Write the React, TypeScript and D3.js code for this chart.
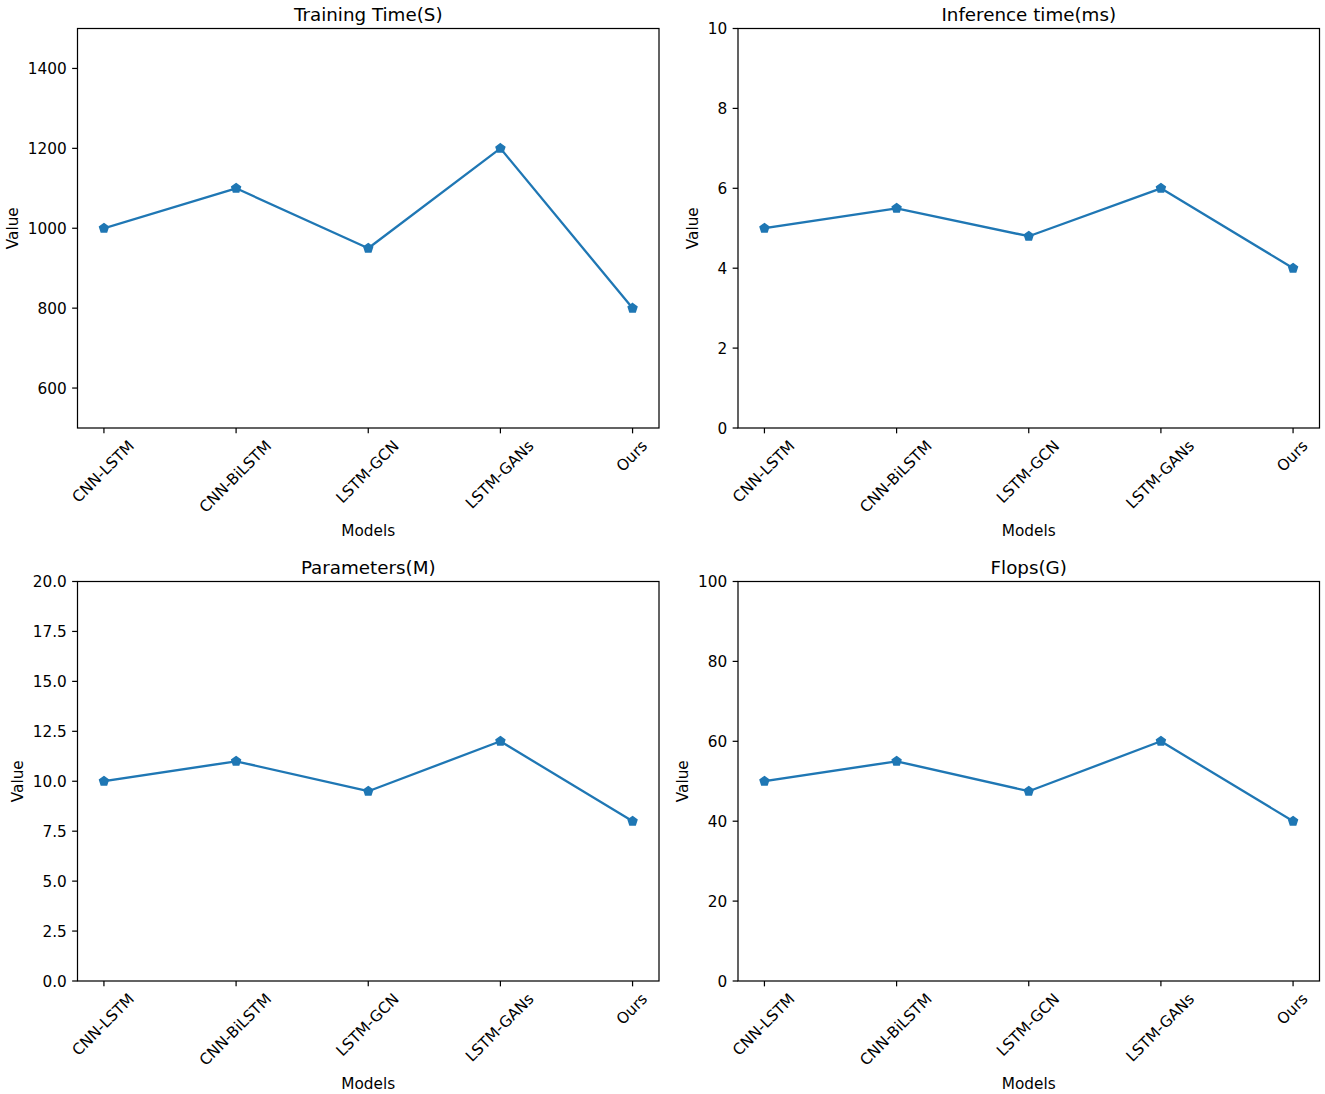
import * as d3 from "d3";
import { useEffect, useRef } from "react";

const models = ["CNN-LSTM", "CNN-BiLSTM", "LSTM-GCN", "LSTM-GANs", "Ours"];

const trainingTime = [1000, 1100, 950, 1200, 800];
const inferenceTime = [5, 5.5, 4.8, 6, 4];
const parameters = [10, 11, 9.5, 12, 8];
const flops = [50, 55, 47.5, 60, 40];

const trainingTicks = [600, 800, 1000, 1200, 1400];
const inferenceTicks = [0, 2, 4, 6, 8, 10];
const parameterTicks = [0, 2.5, 5, 7.5, 10, 12.5, 15, 17.5, 20];
const flopsTicks = [0, 20, 40, 60, 80, 100];

type Panel = {
  title: string;
  values: number[];
  domain: [number, number];
  ticks: number[];
  format: (v: number) => string;
};

const panels: Panel[] = [
  { title: "Training Time(S)", values: trainingTime, domain: [500, 1500], ticks: trainingTicks, format: d3.format("d") },
  { title: "Inference time(ms)", values: inferenceTime, domain: [0, 10], ticks: inferenceTicks, format: d3.format("d") },
  { title: "Parameters(M)", values: parameters, domain: [0, 20], ticks: parameterTicks, format: d3.format(".1f") },
  { title: "Flops(G)", values: flops, domain: [0, 100], ticks: flopsTicks, format: d3.format("d") },
];

const App = () => {
  const svgRef = useRef<SVGSVGElement>(null);

  useEffect(() => {
    const width = 1325;
    const height = 1094;
    const pt = 1.53; // px per point
    const tickFont = 15.3;
    const titleFont = 18.3;
    const color = "#1f77b4";
    const axW = 581.5;
    const axH = 399.5;
    const lefts = [77.5, 738];
    const tops = [28.5, 581.5];
    const tickLen = 3.5 * pt;
    const tickPad = 3.5 * pt;
    const labelPad = 4 * pt;

    const svg = d3.select(svgRef.current);
    svg.selectAll("*").remove();
    svg.attr("width", width).attr("height", height);
    svg.append("rect").attr("width", width).attr("height", height).attr("fill", "white");

    const pentagon = (r: number) =>
      d3.range(5)
        .map((k) => {
          const a = -Math.PI / 2 + (k * 2 * Math.PI) / 5;
          return `${r * Math.cos(a)},${r * Math.sin(a)}`;
        })
        .join(" ");

    panels.forEach((p, idx) => {
      const left = lefts[idx % 2];
      const top = tops[Math.floor(idx / 2)];
      const g = svg
        .append("g")
        .attr("transform", `translate(${left},${top})`)
        .attr("font-family", "DejaVu Sans, sans-serif");

      const x = d3.scalePoint<string>().domain(models).range([0, axW]).padding(0.2);
      const y = d3.scaleLinear().domain(p.domain).range([axH, 0]);

      // y ticks
      const yt = g.append("g");
      p.ticks.forEach((t) => {
        yt.append("line")
          .attr("x1", 0)
          .attr("x2", -tickLen)
          .attr("y1", y(t))
          .attr("y2", y(t))
          .attr("stroke", "black")
          .attr("stroke-width", 0.8 * pt);
        yt.append("text")
          .attr("x", -tickLen - tickPad)
          .attr("y", y(t))
          .attr("dy", "0.36em")
          .attr("text-anchor", "end")
          .attr("font-size", tickFont)
          .text(p.format(t));
      });
      const yBox = (yt.node() as SVGGElement).getBBox();

      g.append("text")
        .attr("transform", `translate(${yBox.x - labelPad - 0.236 * tickFont},${axH / 2}) rotate(-90)`)
        .attr("text-anchor", "middle")
        .attr("font-size", tickFont)
        .text("Value");

      // x ticks
      let maxBottom = 0;
      models.forEach((m) => {
        const cx = x(m) as number;
        g.append("line")
          .attr("x1", cx)
          .attr("x2", cx)
          .attr("y1", axH)
          .attr("y2", axH + tickLen)
          .attr("stroke", "black")
          .attr("stroke-width", 0.8 * pt);
        const t = g
          .append("text")
          .attr("text-anchor", "middle")
          .attr("font-size", tickFont)
          .attr("dy", "0.27em")
          .text(m);
        const w = (t.node() as SVGTextElement).getComputedTextLength();
        const h = 0.983 * tickFont;
        const side = (w + h) / Math.SQRT2;
        const cy = axH + tickLen + tickPad + side / 2;
        t.attr("transform", `translate(${cx},${cy}) rotate(-45)`);
        maxBottom = Math.max(maxBottom, axH + tickLen + tickPad + side);
      });

      g.append("text")
        .attr("x", axW / 2)
        .attr("y", maxBottom + labelPad + 0.76 * tickFont + 2.5)
        .attr("text-anchor", "middle")
        .attr("font-size", tickFont)
        .text("Models");

      g.append("text")
        .attr("x", axW / 2)
        .attr("y", -7.8)
        .attr("text-anchor", "middle")
        .attr("font-size", titleFont)
        .text(p.title);

      // line + markers
      const line = d3
        .line<number>()
        .x((d, i) => x(models[i]) as number)
        .y((d) => y(d));

      g.append("path")
        .attr("d", line(p.values))
        .attr("fill", "none")
        .attr("stroke", color)
        .attr("stroke-width", 1.5 * pt)
        .attr("stroke-linejoin", "round")
        .attr("stroke-linecap", "square");

      g.append("g")
        .selectAll("polygon")
        .data(p.values)
        .join("polygon")
        .attr("points", pentagon(3 * pt))
        .attr("transform", (d, i) => `translate(${x(models[i])},${y(d)})`)
        .attr("fill", color)
        .attr("stroke", color)
        .attr("stroke-width", 1 * pt);

      // frame
      g.append("rect")
        .attr("width", axW)
        .attr("height", axH)
        .attr("fill", "none")
        .attr("stroke", "black")
        .attr("stroke-width", 0.8 * pt);
    });
  }, []);

  return (
    <svg
      ref={svgRef}
      style={{ position: "absolute", left: 0, top: 0, display: "block" }}
    ></svg>
  );
};

export default App;
